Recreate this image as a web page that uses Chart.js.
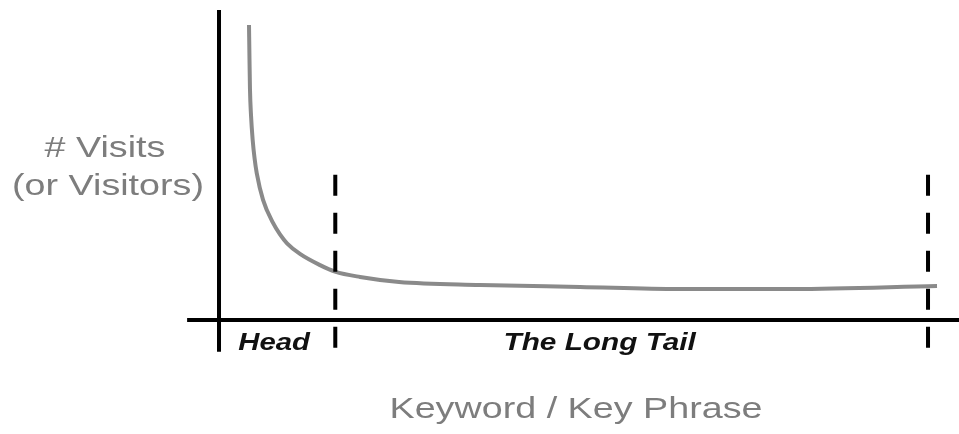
<!DOCTYPE html>
<html>
<head>
<meta charset="utf-8">
<script src="https://cdn.jsdelivr.net/npm/chart.js@4/dist/chart.umd.min.js"></script>
<style>
  html, body { margin: 0; padding: 0; background: #fff; }
  #wrap { width: 959px; height: 434px; position: relative; }
</style>
</head>
<body>
<div id="wrap"><canvas id="tailChart"></canvas></div>
<script>
// keyword rank (0 = y axis, 100 = end of tail) and visits (100 = top of curve)
const keywordRank = [4.23, 4.3, 4.37, 4.51, 4.75, 5.01, 5.32, 6.21, 7.62, 8.6, 9.59, 11.42, 14.25, 16.36, 19.89, 25.39, 36.81, 50.92, 64.88, 80.96, 101.27];
const visits = [100, 88.1, 78, 69.5, 61, 54.9, 49.8, 40.7, 32.9, 29.0, 26.0, 22.4, 18.6, 16.4, 14.6, 12.9, 11.9, 11.2, 10.5, 10.5, 11.5];
const headEnd = 16.4;
const tailEnd = 100;
const axisTitles = { y: ['# Visits', '(or Visitors)'], x: 'Keyword / Key Phrase' };
const regionLabels = ['Head', 'The Long Tail'];

const curve = keywordRank.map((r, i) => ({ x: r, y: visits[i] }));

const solid = (pts) => ({
  data: pts, borderColor: '#000', borderWidth: 4, pointRadius: 0, tension: 0, clip: false
});
const dashed = (x) => ({
  data: [{ x, y: 49.2 }, { x, y: -10.2 }],
  borderColor: '#000', borderWidth: 4, borderDash: [21, 17], pointRadius: 0, tension: 0, clip: false
});

// text labels, slightly stretched like the original graphic
const labelPlugin = {
  id: 'labels',
  afterDraw(chart) {
    const { ctx, scales: { x, y } } = chart;
    const put = (text, px, py, font, color, sx) => {
      ctx.save();
      ctx.font = font;
      ctx.fillStyle = color;
      ctx.textAlign = 'center';
      ctx.textBaseline = 'alphabetic';
      ctx.translate(px, py);
      ctx.scale(sx, 1);
      ctx.fillText(text, 0, 0);
      ctx.restore();
    };
    const grey = '29px "Liberation Sans", Arial, sans-serif';
    put(axisTitles.y[0], 105, 157, grey, '#7d7d7d', 1.3);
    put(axisTitles.y[1], 108, 195, grey, '#7d7d7d', 1.3);
    put(axisTitles.x, 576, 418, grey, '#7d7d7d', 1.3);
    const bold = 'italic bold 24px "Liberation Sans", Arial, sans-serif';
    const base = y.getPixelForValue(-10);
    put(regionLabels[0], (x.getPixelForValue(0) + x.getPixelForValue(headEnd)) / 2 - 3, base, bold, '#111', 1.22);
    put(regionLabels[1], (x.getPixelForValue(headEnd) + x.getPixelForValue(tailEnd)) / 2 - 32, base, bold, '#111', 1.24);
  }
};

new Chart(document.getElementById('tailChart'), {
  type: 'line',
  data: {
    datasets: [
      solid([{ x: 0, y: 105.1 }, { x: 0, y: -10.8 }]),
      solid([{ x: -4.5, y: 0 }, { x: 104.4, y: 0 }]),
      dashed(headEnd),
      dashed(tailEnd),
      {
        data: curve, borderColor: '#8a8a8a', borderWidth: 4, pointRadius: 0,
        cubicInterpolationMode: 'monotone', clip: false
      }
    ]
  },
  options: {
    responsive: true,
    maintainAspectRatio: false,
    animation: false,
    layout: { padding: 0 },
    plugins: { legend: { display: false }, tooltip: { enabled: false } },
    scales: {
      x: { type: 'linear', min: -30.89, max: 104.37, display: false },
      y: { type: 'linear', min: -38.64, max: 108.47, display: false }
    }
  },
  plugins: [labelPlugin]
});
</script>
</body>
</html>
